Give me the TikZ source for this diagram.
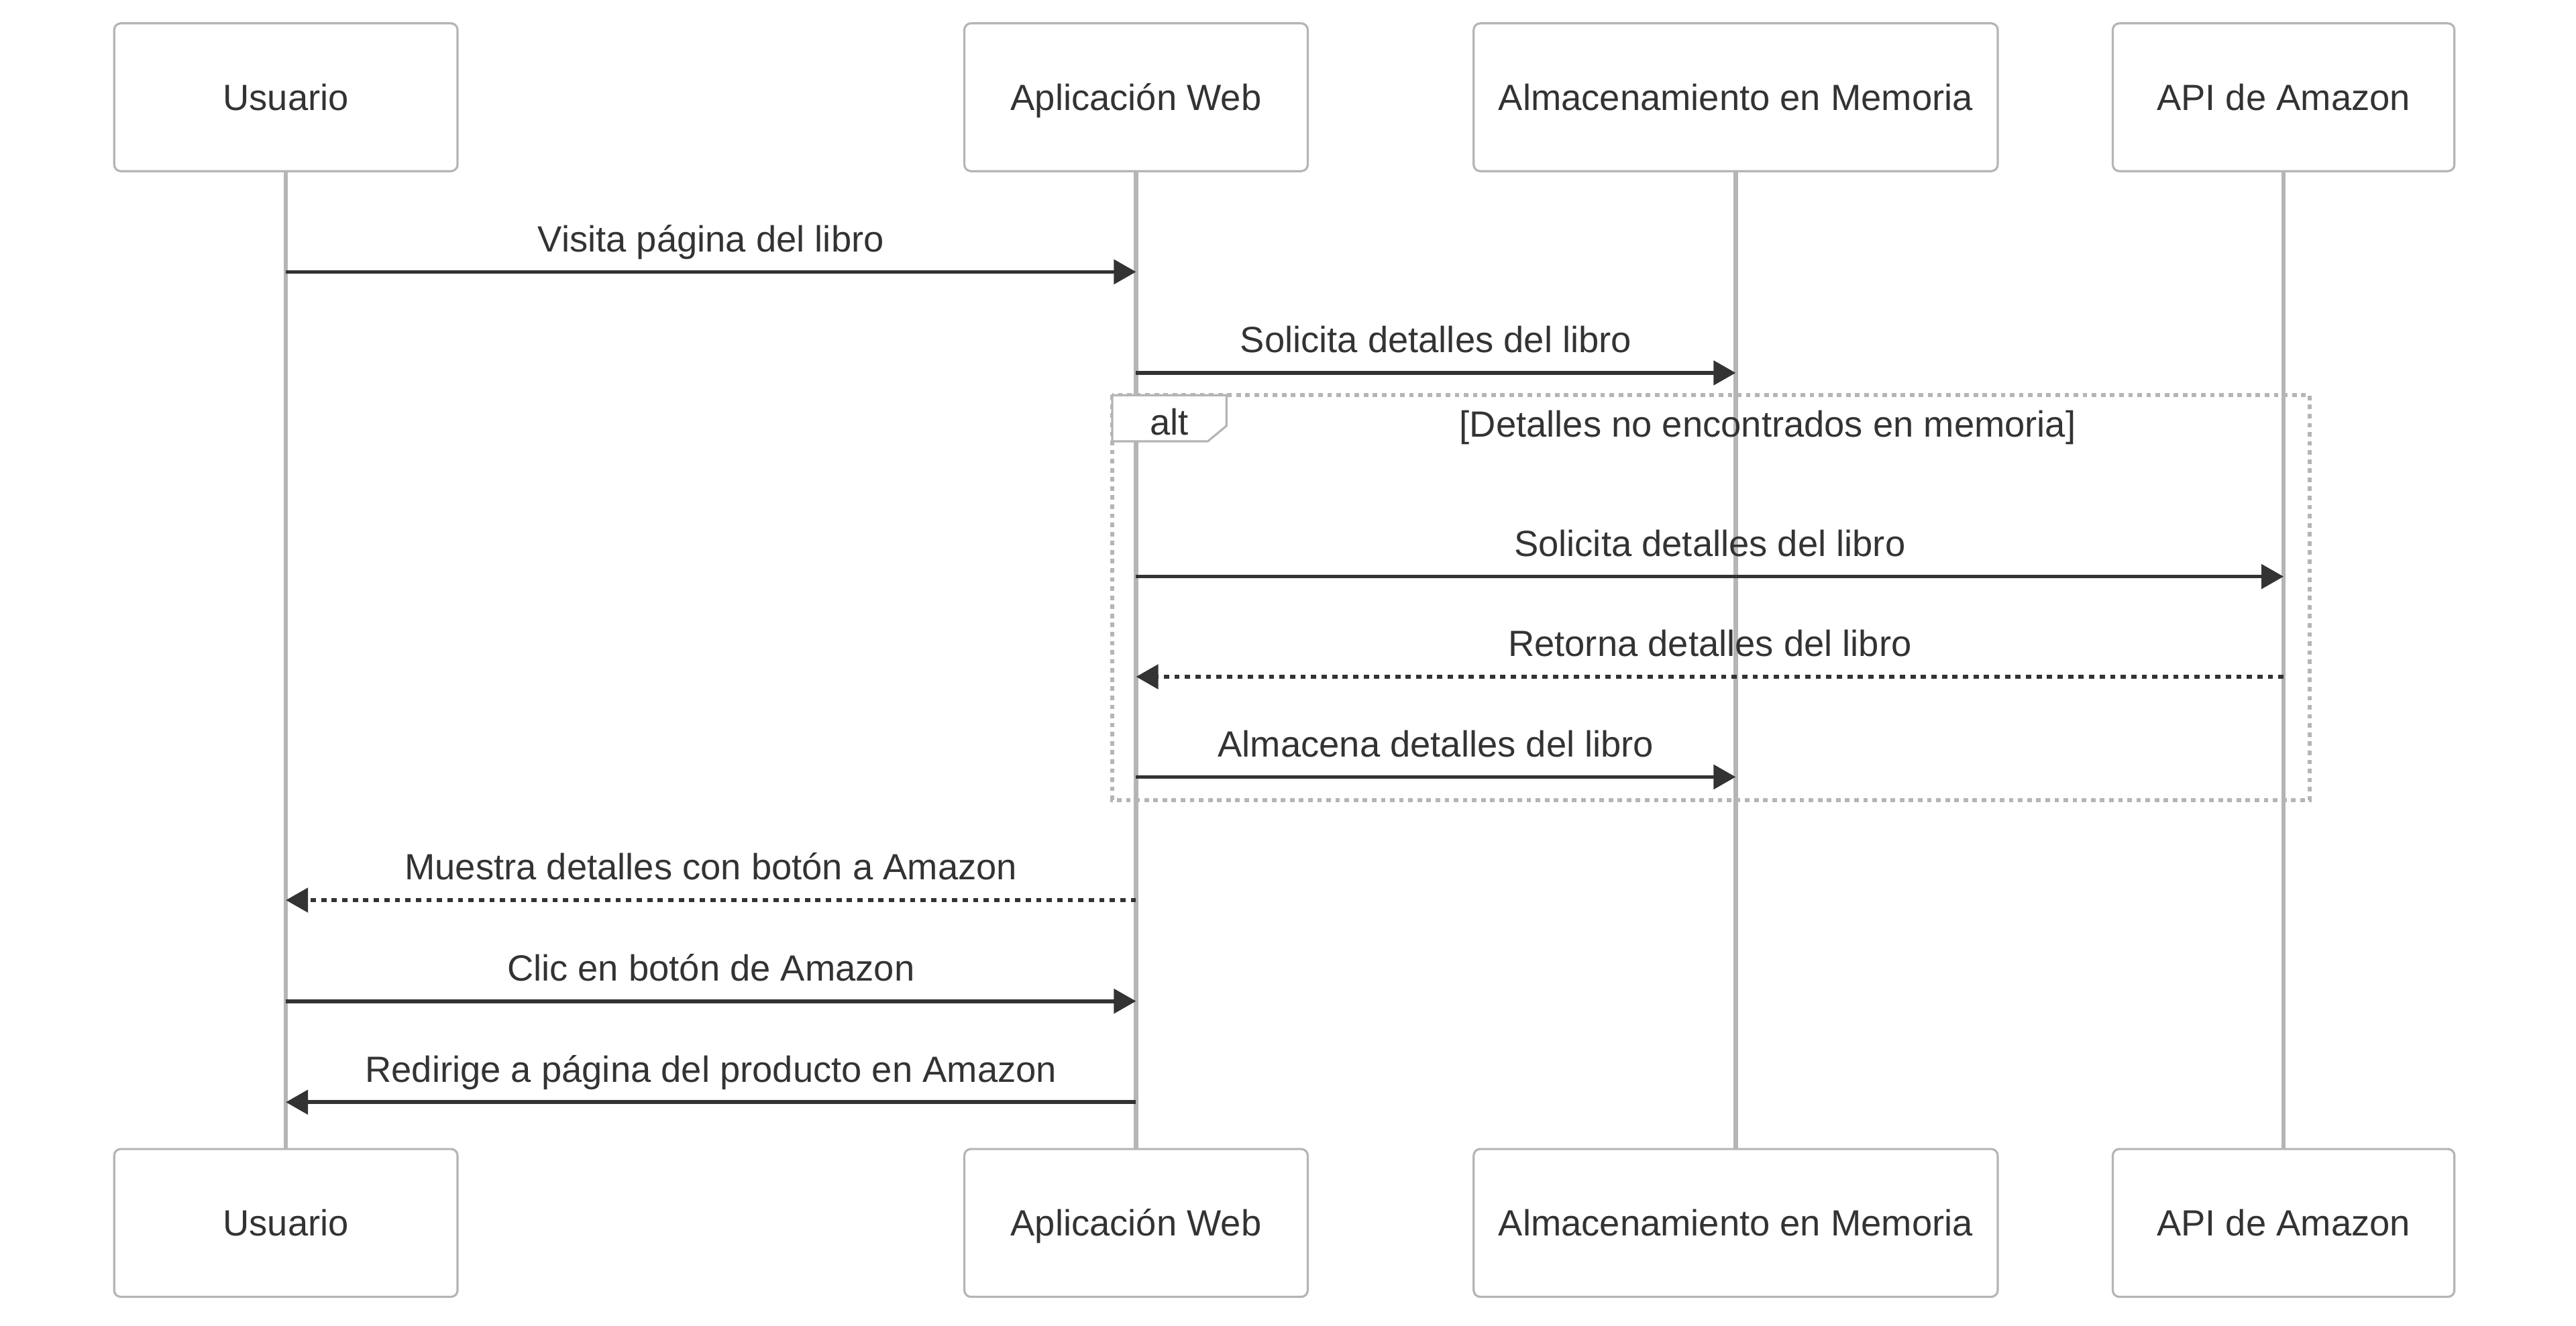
\documentclass[tikz,border=0pt]{standalone}
\usepackage{fontspec}
\setmainfont{Liberation Sans}
\usepackage{tikz}
\usetikzlibrary{calc,arrows.meta,positioning}

\definecolor{ink}{HTML}{333333}
\definecolor{rule}{HTML}{B5B5B5}

\tikzset{
  actor/.style={draw=rule, line width=1.3pt, rounded corners=4pt, fill=white,
    minimum height=90pt, inner sep=0pt, text height=16pt, text depth=0pt},
  life/.style={draw=rule, line width=2.6pt},
  msg/.style={draw=ink, line width=2.3pt, -{Triangle[length=13.5pt,width=14.7pt]}},
  reply/.style={msg, dash pattern=on 3.2pt off 3.2pt},
  msgtext/.style={anchor=base, yshift=12.3pt, inner sep=0pt},
  frame/.style={draw=rule, line width=2.4pt, dash pattern=on 2.77pt off 2.77pt},
  tag/.style={draw=rule, line width=1.3pt, fill=white}
}

\begin{document}
\begin{tikzpicture}[x=1pt, y=-1pt,
    every node/.style={font=\fontsize{22.2}{26}\selectfont, text=ink}]
  \fill[white] (0,0) rectangle (1568,807);
  % participants
  \node[actor, minimum width=209pt] (usrTop) at (174,59.2) {Usuario};
  \node[actor, minimum width=209pt] (appTop) at (691.5,59.2) {Aplicación Web};
  \node[actor, minimum width=319pt] (memTop) at (1056.5,59.2) {Almacenamiento en Memoria};
  \node[actor, minimum width=208pt] (apiTop) at (1390,59.2) {API de Amazon};
  \node[actor, minimum width=209pt] (usrBot) at (174,744.5) {Usuario};
  \node[actor, minimum width=209pt] (appBot) at (691.5,744.5) {Aplicación Web};
  \node[actor, minimum width=319pt] (memBot) at (1056.5,744.5) {Almacenamiento en Memoria};
  \node[actor, minimum width=208pt] (apiBot) at (1390,744.5) {API de Amazon};
  \draw [life] (usrTop) -- (usrBot);
  \draw [life] (appTop) -- (appBot);
  \draw [life] (memTop) -- (memBot);
  \draw [life] (apiTop) -- (apiBot);
  % alt block
  \coordinate (altNW) at (677,240.6);
  \coordinate (altSE) at (1406,487);
  \draw [frame] (altNW) rectangle (altSE);
  \draw [tag] (altNW) -- ++(69.5,0) -- ++(0,18.7) -- ++(-11.4,9.4) -- ($(altNW)+(0,28.1)$) -- cycle;
  \node[anchor=base, inner sep=0pt] (altTag) at (711.7,264.7) {alt};
  \node[anchor=base, inner sep=0pt] (altCond) at (1076,266) {[Detalles no encontrados en memoria]};
  % message rows
  \coordinate (r1) at (0,165.5);
  \coordinate (r2) at (0,227);
  \coordinate (r3) at (0,351);
  \coordinate (r4) at (0,412);
  \coordinate (r5) at (0,473);
  \coordinate (r6) at (0,548);
  \coordinate (r7) at (0,609.5);
  \coordinate (r8) at (0,671);
  \draw [msg] (usrTop |- r1) -- node[msgtext] {Visita página del libro} (appTop |- r1);
  \draw [msg] (appTop |- r2) -- node[msgtext] {Solicita detalles del libro} (memTop |- r2);
  \draw [msg] (appTop |- r3) -- node[msgtext] {Solicita detalles del libro} (apiTop |- r3);
  \draw [reply] (apiTop |- r4) -- node[msgtext] {Retorna detalles del libro} (appTop |- r4);
  \draw [msg] (appTop |- r5) -- node[msgtext] {Almacena detalles del libro} (memTop |- r5);
  \draw [reply] (appTop |- r6) -- node[msgtext] {Muestra detalles con botón a Amazon} (usrTop |- r6);
  \draw [msg] (usrTop |- r7) -- node[msgtext] {Clic en botón de Amazon} (appTop |- r7);
  \draw [msg] (appTop |- r8) -- node[msgtext] {Redirige a página del producto en Amazon} (usrTop |- r8);
\end{tikzpicture}
\end{document}
